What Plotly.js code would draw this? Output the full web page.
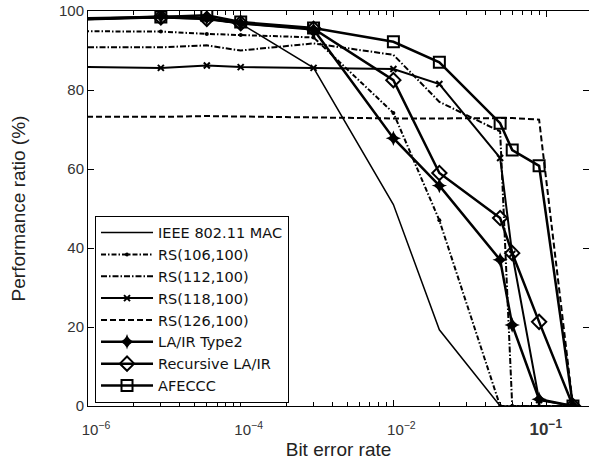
<!DOCTYPE html>
<html>
<head>
<meta charset="utf-8">
<script src="https://cdn.plot.ly/plotly-3.0.1.min.js"></script>
<style>html,body{margin:0;padding:0;background:#fff;}#chart{width:589px;height:468px;}</style>
</head>
<body>
<div id="chart"></div>
<script>
// Positions on the reference's log axis (one decade per labelled tick: 10^-6, 10^-4, 10^-2, 10^-1)
var xPos = [0.5, 3, 6, 10, 30, 100, 200, 500, 600, 900, 1500];
var tickPos = [1, 10, 100, 1000];
var tickLabels = ['10<sup>−6</sup>', '10<sup>−4</sup>', '10<sup>−2</sup>', '<b><span style="font-size:17px">10<sup>−1</sup></span></b>\u00A0\u00A0\u00A0\u00A0'];

var seriesNames = ['IEEE 802.11 MAC', 'RS(106,100)', 'RS(112,100)', 'RS(118,100)', 'RS(126,100)', 'LA/IR Type2', 'Recursive LA/IR', 'AFECCC'];
var ieee      = [97.8, 98.3, 98.0, 96.8, 85.6, 51.0, 19.3, 0, 0, 0, 0];
var rs106     = [94.9, 94.8, 94.2, 93.9, 93.3, 74.2, 47.0, 0, 0, 0, 0];
var rs112     = [90.8, 90.8, 91.3, 90.0, 91.8, 88.9, 77.0, 69.5, 0, 0, 0];
var rs118     = [86.0, 85.6, 86.2, 85.8, 85.6, 85.3, 81.5, 62.8, 38.5, 1.5, 0];
var rs126     = [73.2, 73.2, 73.4, 73.3, 72.9, 72.8, 72.8, 72.9, 72.9, 72.5, 0];
var lairType2 = [97.6, 98.6, 98.2, 96.9, 95.3, 67.8, 55.8, 37.0, 20.5, 1.7, 0];
var recursive = [97.6, 98.4, 98.0, 96.9, 95.5, 82.5, 59.0, 47.6, 38.7, 21.3, 0];
var afeccc    = [98.0, 98.5, 98.9, 97.2, 95.7, 92.2, 87.0, 71.6, 64.8, 60.8, 0];

var minorPos = [];
tickPos.forEach(function (d) { for (var m = 2; m <= 9; m++) minorPos.push(m * d); });

function tr(name, y, line, marker) {
  var t = {x: xPos, y: y, name: name, type: 'scatter',
           mode: marker ? 'lines+markers' : 'lines', line: line};
  if (marker) t.marker = marker;
  return t;
}

var data = [
  tr(seriesNames[0], ieee, {color: '#000', width: 1.5}),
  tr(seriesNames[1], rs106, {color: '#000', width: 2, dash: '5px,2px,1.5px,2px'}, {symbol: 'circle', size: 4, color: '#000'}),
  tr(seriesNames[2], rs112, {color: '#000', width: 2, dash: '6px,2px,1.5px,2px'}),
  tr(seriesNames[3], rs118, {color: '#000', width: 2}, {symbol: 'x-thin-open', size: 6, color: '#000', line: {width: 2, color: '#000'}}),
  tr(seriesNames[4], rs126, {color: '#000', width: 2, dash: '6px,3px'}),
  tr(seriesNames[5], lairType2, {color: '#000', width: 2.5}, {symbol: 'star-diamond', size: 11, color: '#000'}),
  tr(seriesNames[6], recursive, {color: '#000', width: 2.5}, {symbol: 'diamond-open', size: 11, color: '#000', line: {width: 2, color: '#000'}}),
  tr(seriesNames[7], afeccc, {color: '#000', width: 2.5}, {symbol: 'square-open', size: 11, color: '#000', line: {width: 2, color: '#000'}})
];

var layout = {
  width: 589, height: 468,
  margin: {l: 88, r: 0, t: 11, b: 62},
  paper_bgcolor: '#fff', plot_bgcolor: '#fff',
  font: {family: 'Liberation Sans, Arial, sans-serif', color: '#333'},
  showlegend: true,
  legend: {x: 0.014, y: 0.482, xanchor: 'left', yanchor: 'top',
           bgcolor: '#fff', bordercolor: '#000', borderwidth: 1,
           font: {family: 'DejaVu Sans, sans-serif', size: 14.5, color: '#111'},
           itemwidth: 52, entrywidth: 218, entrywidthmode: 'pixels'},
  xaxis: {
    type: 'log', range: [0, 3.281],
    tickmode: 'array', tickvals: tickPos, ticktext: tickLabels,
    ticks: 'inside', ticklen: 6, tickcolor: '#000',
    minor: {tickmode: 'array', tickvals: minorPos, ticks: 'inside', ticklen: 4, tickcolor: '#000'},
    showline: true, linecolor: '#000', linewidth: 1, mirror: 'ticks',
    showgrid: false, zeroline: false,
    tickfont: {size: 15, color: '#333'}, ticklabelshift: 8, ticklabelstandoff: 10,
    title: {text: 'Bit error rate', font: {size: 19, color: '#222'}, standoff: 4}
  },
  yaxis: {
    range: [0, 100], tickvals: [0, 20, 40, 60, 80, 100],
    ticks: 'inside', ticklen: 6, tickcolor: '#000',
    showline: true, linecolor: '#000', linewidth: 1, mirror: 'ticks',
    showgrid: false, zeroline: false,
    tickfont: {size: 15, color: '#333'},
    title: {text: 'Performance ratio (%)', font: {size: 19, color: '#222'}, standoff: 28}
  }
};

Plotly.newPlot('chart', data, layout, {displayModeBar: false, staticPlot: true});
</script>
</body>
</html>
